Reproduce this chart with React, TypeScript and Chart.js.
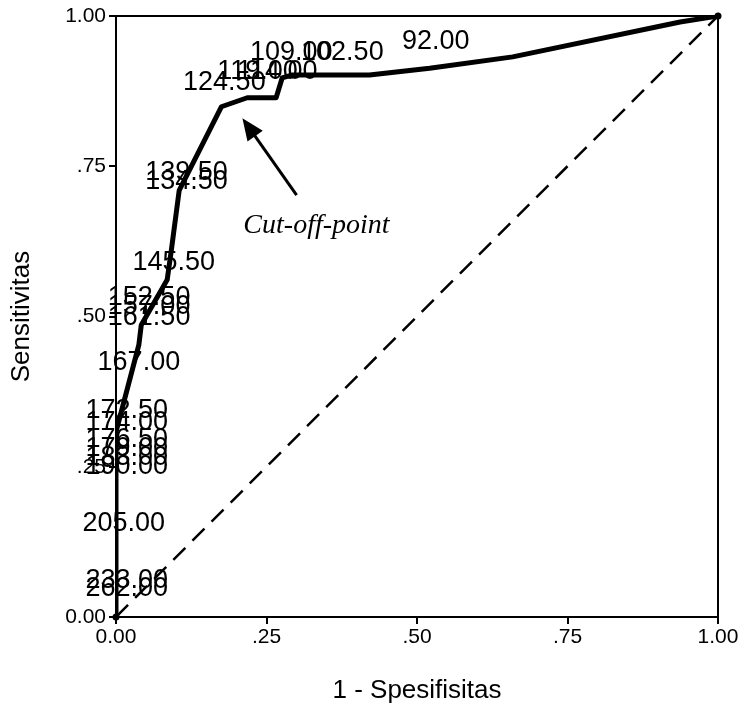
import React, { useEffect, useRef } from 'react';
import { Chart, registerables } from 'chart.js';
Chart.register(...registerables);

// ROC curve (1 - specificity, sensitivity)
const rocFpr = [0, 0, 0.038, 0.042, 0.085, 0.092, 0.105, 0.175, 0.218, 0.266, 0.276, 0.293, 0.421, 0.521, 0.659, 0.937, 1];
const rocTpr = [0, 0.308, 0.453, 0.486, 0.561, 0.611, 0.71, 0.849, 0.864, 0.864, 0.897, 0.902, 0.902, 0.913, 0.932, 0.99, 1];
// reference diagonal
const refFpr = [0, 1];
const refTpr = [0, 1];
// cut-off value labels and their positions (data units)
const cutLabels = ['92.00', '109.00', '102.50', '119.00', '114.00', '124.50', '139.50', '134.50', '145.50', '152.50', '157.00', '161.50', '167.00', '172.50', '174.00', '176.50', '179.00', '183.00', '190.00', '205.00', '233.00', '262.00'];
const cutLabelX = [0.531, 0.291, 0.376, 0.235, 0.268, 0.18, 0.117, 0.117, 0.096, 0.055, 0.055, 0.055, 0.038, 0.018, 0.018, 0.018, 0.018, 0.018, 0.018, 0.013, 0.018, 0.018];
const cutLabelY = [0.958, 0.94, 0.94, 0.907, 0.907, 0.89, 0.74, 0.725, 0.589, 0.532, 0.516, 0.498, 0.423, 0.344, 0.324, 0.295, 0.28, 0.265, 0.25, 0.156, 0.06, 0.047];
// annotation
const annotationText = 'Cut-off-point';
const arrowTip = [0.21, 0.83];
const arrowTail = [0.3, 0.702];
const annotationPos = [0.333, 0.652];
// axis ticks
const tickValues = [0, 0.25, 0.5, 0.75, 1];
const xTickLabels = ['0.00', '.25', '.50', '.75', '1.00'];
const yTickLabels = ['0.00', '.25', '.50', '.75', '1.00'];
const xTitle = '1 - Spesifisitas';
const yTitle = 'Sensitivitas';

const overlayPlugin = {
  id: 'overlay',
  afterDatasetsDraw(chart: any) {
    const { ctx, chartArea, scales } = chart;
    const xs = scales.x;
    const ys = scales.y;
    ctx.save();
    // top and right frame
    ctx.strokeStyle = '#000';
    ctx.lineWidth = 2;
    ctx.beginPath();
    ctx.moveTo(chartArea.left, chartArea.top);
    ctx.lineTo(chartArea.right, chartArea.top);
    ctx.lineTo(chartArea.right, chartArea.bottom);
    ctx.stroke();
    // end dots
    ctx.fillStyle = '#000';
    [[0, 0], [1, 1]].forEach(([a, b]) => {
      ctx.beginPath();
      ctx.arc(xs.getPixelForValue(a), ys.getPixelForValue(b), 3.5, 0, Math.PI * 2);
      ctx.fill();
    });
    // cut-off labels
    ctx.font = '27px "Liberation Sans", Arial, sans-serif';
    ctx.textAlign = 'center';
    ctx.textBaseline = 'middle';
    cutLabels.forEach((t, i) => {
      ctx.fillText(t, xs.getPixelForValue(cutLabelX[i]), ys.getPixelForValue(cutLabelY[i]));
    });
    // arrow
    const tx = xs.getPixelForValue(arrowTip[0]);
    const ty = ys.getPixelForValue(arrowTip[1]);
    const sx = xs.getPixelForValue(arrowTail[0]);
    const sy = ys.getPixelForValue(arrowTail[1]);
    const ang = Math.atan2(ty - sy, tx - sx);
    const head = 24;
    const hw = 0.4;
    ctx.lineWidth = 3;
    ctx.beginPath();
    ctx.moveTo(sx, sy);
    ctx.lineTo(tx - Math.cos(ang) * head * 0.8, ty - Math.sin(ang) * head * 0.8);
    ctx.stroke();
    ctx.beginPath();
    ctx.moveTo(tx, ty);
    ctx.lineTo(tx - head * Math.cos(ang - hw), ty - head * Math.sin(ang - hw));
    ctx.lineTo(tx - head * Math.cos(ang + hw), ty - head * Math.sin(ang + hw));
    ctx.closePath();
    ctx.fill();
    // annotation text
    ctx.font = 'italic 28px "Liberation Serif", "Times New Roman", serif';
    ctx.fillText(annotationText, xs.getPixelForValue(annotationPos[0]), ys.getPixelForValue(annotationPos[1]));
    ctx.restore();
  },
};

export default function App() {
  const ref = useRef<HTMLCanvasElement | null>(null);
  useEffect(() => {
    if (!ref.current) return;
    const tickFont = { family: '"Liberation Sans", Arial, sans-serif', size: 21 };
    const titleFont = { family: '"Liberation Sans", Arial, sans-serif', size: 26 };
    const chart = new Chart(ref.current, {
      type: 'line',
      data: {
        datasets: [
          {
            data: refFpr.map((x, i) => ({ x, y: refTpr[i] })),
            borderColor: '#000',
            borderWidth: 2.5,
            borderDash: [17, 10],
            pointRadius: 0,
            fill: false,
          },
          {
            data: rocFpr.map((x, i) => ({ x, y: rocTpr[i] })),
            borderColor: '#000',
            borderWidth: 5,
            pointRadius: 0,
            fill: false,
            borderJoinStyle: 'round',
            borderCapStyle: 'round',
          },
        ],
      },
      options: {
        responsive: false,
        animation: false,
        layout: { padding: { top: 16, right: 25, left: 0, bottom: 0 } },
        plugins: { legend: { display: false }, tooltip: { enabled: false } },
        scales: {
          x: {
            type: 'linear',
            min: 0,
            max: 1,
            afterBuildTicks: (s: any) => { s.ticks = tickValues.map((v) => ({ value: v })); },
            afterFit: (s: any) => { s.height = 105; },
            ticks: {
              color: '#000',
              font: tickFont,
              padding: 1,
              maxRotation: 0,
              callback: (v: any) => xTickLabels[tickValues.indexOf(Number(v))] ?? '',
            },
            grid: { drawOnChartArea: false, drawTicks: true, tickLength: 7, color: '#000', lineWidth: 2 },
            border: { display: true, color: '#000', width: 2 },
            title: { display: true, text: xTitle, color: '#000', font: titleFont, padding: { top: 0, bottom: 16 } },
          },
          y: {
            type: 'linear',
            min: 0,
            max: 1,
            afterBuildTicks: (s: any) => { s.ticks = tickValues.map((v) => ({ value: v })); },
            afterFit: (s: any) => { s.width = 116; },
            ticks: {
              color: '#000',
              font: tickFont,
              padding: 3,
              callback: (v: any) => yTickLabels[tickValues.indexOf(Number(v))] ?? '',
            },
            grid: { drawOnChartArea: false, drawTicks: true, tickLength: 7, color: '#000', lineWidth: 2 },
            border: { display: true, color: '#000', width: 2 },
            title: { display: true, text: yTitle, color: '#000', font: titleFont, padding: { top: 6, bottom: 0 } },
          },
        },
      },
      plugins: [overlayPlugin],
    } as any);
    return () => chart.destroy();
  }, []);
  return (
    <div style={{ position: 'absolute', left: 0, top: 0, width: 743, height: 722, background: '#fff' }}>
      <canvas ref={ref} width={743} height={722} />
    </div>
  );
}
